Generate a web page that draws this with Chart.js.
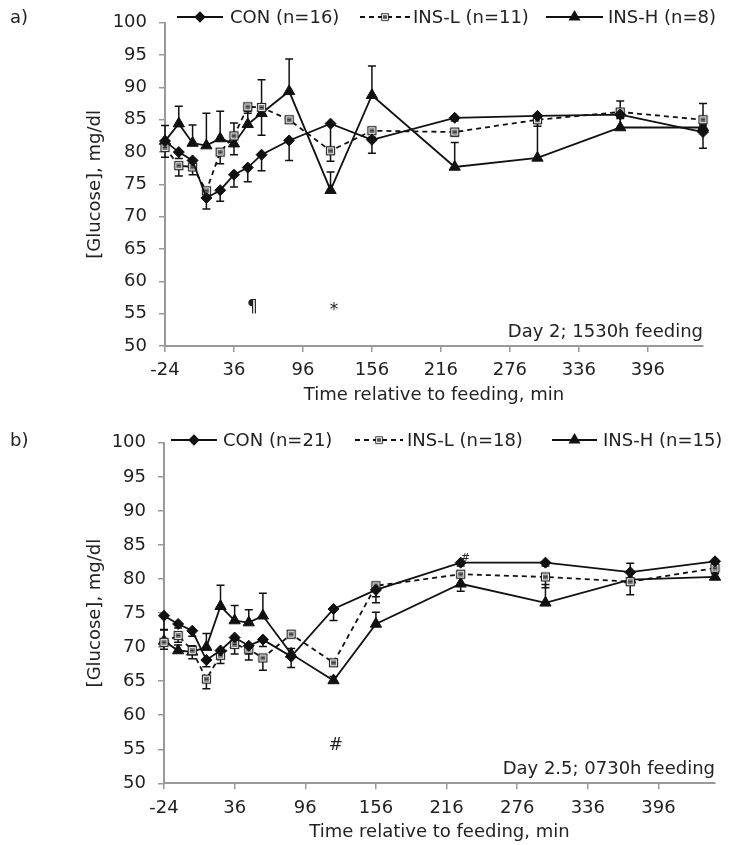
<!DOCTYPE html>
<html>
<head>
<meta charset="utf-8">
<script src="https://cdn.jsdelivr.net/npm/chart.js@4/dist/chart.umd.min.js"></script>
<style>
  body { margin: 0; background: #fff; }
  canvas { position: absolute; left: 0; }
  #chartA { top: 0; }
  #chartB { top: 420px; }
</style>
</head>
<body>
<canvas id="chartA" width="731" height="420"></canvas>
<canvas id="chartB" width="731" height="425"></canvas>
<script>
// sampling times, min relative to feeding
const times = [-24, -12, 0, 12, 24, 36, 48, 60, 84, 120, 156, 228, 300, 372, 444];
const xTickValues = [-24, 36, 96, 156, 216, 276, 336, 396];

// a) Day 2, 1530h feeding
const conA = [81.7, 80.0, 78.7, 72.9, 74.1, 76.5, 77.6, 79.6, 81.8, 84.4, 81.9, 85.3, 85.6, 85.8, 83.1];
const insLA = [80.7, 77.9, 77.7, 74.0, 80.0, 82.5, 87.0, 86.9, 85.0, 80.2, 83.3, 83.1, 85.0, 86.2, 85.0];
const insHA = [81.7, 84.4, 81.4, 81.0, 82.1, 81.3, 84.3, 86.0, 89.4, 74.1, 88.8, 77.7, 79.1, 83.8, 83.8];
// one-sided SE: CON and INS-L drawn downward, INS-H upward
const conAErr = [1.2, 1.0, 1.0, 1.7, 1.7, 1.9, 2.2, 2.5, 3.1, 3.7, 2.1, 0.5, 0.5, 0.6, 2.5];
const insLAErr = [1.5, 1.6, 1.2, 1.0, 1.8, 2.9, 1.0, 4.3, 0.5, 1.6, 1.0, 0.6, 1.0, 0.8, 0.8];
const insHAErr = [2.4, 2.7, 2.8, 5.0, 4.2, 3.2, 2.0, 5.2, 5.0, 2.8, 4.5, 3.8, 6.6, 4.1, 3.7];
const labelsA = ['CON (n=16)', 'INS-L (n=11)', 'INS-H (n=8)'];
const marksA = [{x: 52, y: 56, text: '¶'}, {x: 123, y: 55.5, text: '*'}];

// b) Day 2.5, 0730h feeding
const conB = [74.6, 73.4, 72.4, 68.1, 69.5, 71.4, 70.2, 71.1, 68.6, 75.6, 78.4, 82.4, 82.4, 81.0, 82.6];
const insLB = [70.7, 71.7, 69.5, 65.3, 68.8, 70.4, 69.7, 68.4, 71.9, 67.7, 79.0, 80.7, 80.3, 79.6, 81.6];
const insHB = [70.9, 69.5, 69.3, 70.0, 76.0, 73.9, 73.6, 74.6, 69.0, 65.1, 73.4, 79.3, 76.5, 79.9, 80.3];
const conBErr = [2.0, 0.6, 0.8, 1.0, 1.0, 1.4, 1.2, 1.0, 1.6, 1.7, 1.0, 0.5, 0.5, 1.0, 0.5];
const insLBErr = [1.0, 1.0, 1.2, 1.4, 1.2, 1.4, 1.6, 1.8, 0.5, 0.5, 2.5, 2.5, 1.6, 1.9, 0.8];
const insHBErr = [1.6, 0.8, 0.9, 2.0, 3.1, 2.2, 1.9, 3.3, 0.8, 0.6, 1.7, 1.0, 2.7, 2.4, 0.5];
const labelsB = ['CON (n=21)', 'INS-L (n=18)', 'INS-H (n=15)'];
const marksB = [{x: 122, y: 55.5, text: '#'}, {x: 232, y: 83.0, text: '#', small: true}];

const errDirs = [-1, -1, 1];

Chart.defaults.font.family = 'DejaVu Sans';
Chart.defaults.font.size = 18;
Chart.defaults.color = '#222';

// open square with a bar, like the excel marker
function squareMarker() {
  const c = document.createElement('canvas');
  c.width = 11; c.height = 11;
  const g = c.getContext('2d');
  g.fillStyle = '#fff';
  g.fillRect(1, 1, 9, 9);
  g.strokeStyle = '#222';
  g.lineWidth = 1.2;
  g.strokeRect(1.5, 1.5, 8, 8);
  g.fillStyle = '#777';
  g.fillRect(3, 3, 5, 5);
  g.strokeRect(3.5, 5.5, 4, 0);
  return c;
}
const sqMark = squareMarker();

function pts(vals) {
  return times.map((t, i) => ({x: t, y: vals[i]}));
}

const errorBars = {
  id: 'errorBars',
  beforeDatasetsDraw(chart) {
    const {ctx, scales: {x, y}} = chart;
    ctx.save();
    ctx.strokeStyle = '#111';
    ctx.lineWidth = 1.5;
    chart.data.datasets.forEach(ds => {
      ds.data.forEach((p, i) => {
        const px = x.getPixelForValue(p.x);
        const py = y.getPixelForValue(p.y);
        const end = y.getPixelForValue(p.y + ds.errDir * ds.errors[i]);
        ctx.beginPath();
        ctx.moveTo(px, py); ctx.lineTo(px, end);
        ctx.moveTo(px - 4, end); ctx.lineTo(px + 4, end);
        ctx.stroke();
      });
    });
    ctx.restore();
  }
};

// legend, panel letter, notes
const extras = {
  id: 'extras',
  afterDraw(chart, args, opts) {
    const {ctx, chartArea, scales: {x, y}} = chart;
    ctx.save();
    ctx.font = '18px "DejaVu Sans"';
    ctx.fillStyle = '#222';
    ctx.textBaseline = 'middle';
    ctx.textAlign = 'left';
    ctx.fillText(opts.panel, 10, opts.legendY + 1);

    chart.data.datasets.forEach((ds, i) => {
      const [x0, x1, tx] = opts.legendX[i];
      const ly = opts.legendY;
      ctx.strokeStyle = '#111';
      ctx.lineWidth = 1.8;
      ctx.setLineDash(ds.borderDash || []);
      ctx.beginPath();
      ctx.moveTo(x0, ly); ctx.lineTo(x1, ly);
      ctx.stroke();
      ctx.setLineDash([]);
      const mx = (x0 + x1) / 2;
      if (ds.pointStyle instanceof HTMLCanvasElement) {
        ctx.drawImage(ds.pointStyle, mx - 4.5, ly - 4.5, 9, 9);
      } else {
        Chart.helpers.drawPoint(ctx, {pointStyle: ds.pointStyle, radius: ds.pointRadius * 0.8, borderWidth: 1}, mx, ly);
        ctx.fillStyle = '#111';
        ctx.fill();
      }
      ctx.fillStyle = '#222';
      ctx.fillText(ds.label, tx, ly + 1);
    });

    ctx.textAlign = 'right';
    ctx.textBaseline = 'alphabetic';
    ctx.fillText(opts.note, chartArea.right, chartArea.bottom - 9);

    ctx.textAlign = 'center';
    ctx.textBaseline = 'middle';
    opts.marks.forEach(m => {
      ctx.font = (m.small ? '11px' : '17px') + ' "DejaVu Sans"';
      ctx.fillText(m.text, x.getPixelForValue(m.x), y.getPixelForValue(m.y));
    });
    ctx.restore();
  }
};

function makeChart(id, series, errs, labels, layout) {
  const styles = [
    {pointStyle: 'rectRot', pointRadius: 5.5, borderDash: []},
    {pointStyle: sqMark, pointRadius: 5, borderDash: [5, 4]},
    {pointStyle: 'triangle', pointRadius: 6.5, borderDash: []}
  ];
  const datasets = series.map((vals, i) => ({
    label: labels[i],
    data: pts(vals),
    errors: errs[i],
    errDir: errDirs[i],
    borderColor: '#111',
    backgroundColor: '#111',
    pointBackgroundColor: '#111',
    pointBorderColor: '#111',
    borderWidth: 1.8,
    pointBorderWidth: 1,
    clip: false,
    ...styles[i]
  }));

  return new Chart(document.getElementById(id), {
    type: 'line',
    data: {datasets},
    plugins: [errorBars, extras],
    options: {
      responsive: false,
      animation: false,
      layout: {padding: {top: layout.top, right: layout.right, bottom: 0, left: 0}},
      plugins: {
        legend: {display: false},
        tooltip: {enabled: false},
        extras: {
          panel: layout.panel,
          note: layout.note,
          marks: layout.marks,
          legendY: layout.legendY,
          legendX: layout.legendX
        }
      },
      scales: {
        x: {
          type: 'linear',
          min: -24,
          max: 444,
          afterBuildTicks(scale) { scale.ticks = xTickValues.map(v => ({value: v})); },
          afterFit(scale) { scale.height = layout.xHeight; },
          grid: {drawOnChartArea: false, drawTicks: true, tickLength: 6, color: '#999', lineWidth: 1.5},
          border: {display: true, color: '#999', width: 2},
          ticks: {padding: 8, color: '#222', maxRotation: 0, autoSkip: false},
          title: {display: true, text: 'Time relative to feeding, min', color: '#222', padding: {top: 0, bottom: layout.xTitlePad}}
        },
        y: {
          min: 50,
          max: 100,
          afterFit(scale) { scale.width = layout.yWidth; },
          grid: {drawOnChartArea: false, drawTicks: true, tickLength: 6, color: '#999', lineWidth: 1.5},
          border: {display: true, color: '#999', width: 2},
          ticks: {stepSize: 5, padding: 12, color: '#222'},
          title: {display: true, text: '[Glucose], mg/dl', color: '#222', padding: {top: 85, bottom: 0}}
        }
      }
    }
  });
}

makeChart('chartA', [conA, insLA, insHA], [conAErr, insLAErr, insHAErr], labelsA, {
  top: 16, right: 28, yWidth: 165, xHeight: 74, xTitlePad: 14,
  panel: 'a)', note: 'Day 2; 1530h feeding', marks: marksA,
  legendY: 17, legendX: [[177, 223, 230], [360, 410, 413], [546, 603, 608]]
});

makeChart('chartB', [conB, insLB, insHB], [conBErr, insLBErr, insHBErr], labelsB, {
  top: 20.7, right: 16, yWidth: 164, xHeight: 61.7, xTitlePad: 2,
  panel: 'b)', note: 'Day 2.5; 0730h feeding', marks: marksB,
  legendY: 20, legendX: [[171, 217, 223], [355, 403, 407], [552, 597, 603]]
});
</script>
</body>
</html>
